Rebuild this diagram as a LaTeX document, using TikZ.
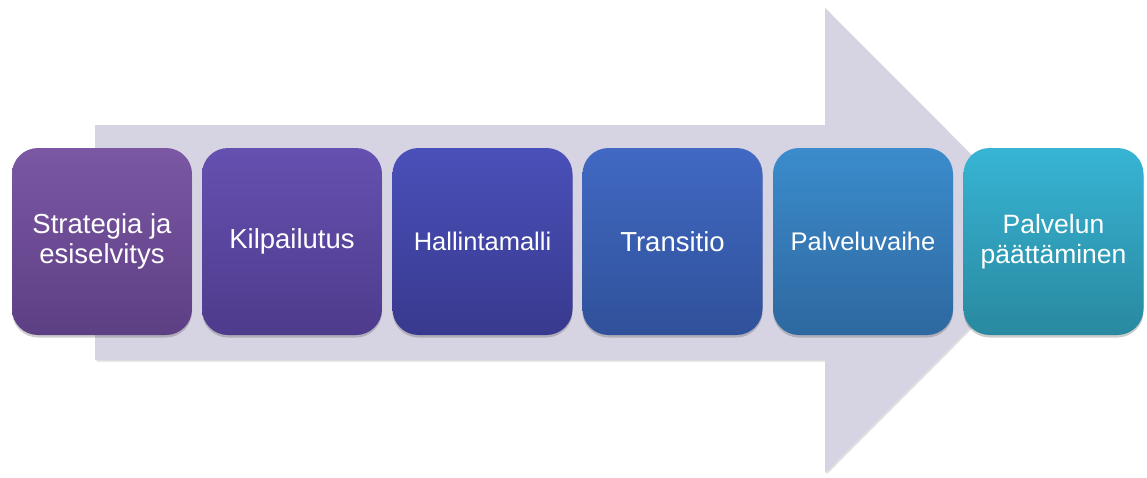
\documentclass[tikz,border=0pt]{standalone}
\usepackage{fontspec}
\setmainfont{Liberation Sans}
\usetikzlibrary{shadows}
\definecolor{arrowc}{HTML}{D6D3E2}
\definecolor{aT}{HTML}{7B57A4}\definecolor{aB}{HTML}{5D3F84}
\definecolor{bT}{HTML}{6650B0}\definecolor{bB}{HTML}{4E3B8C}
\definecolor{cT}{HTML}{4A50B9}\definecolor{cB}{HTML}{38398E}
\definecolor{dT}{HTML}{4169C3}\definecolor{dB}{HTML}{30519A}
\definecolor{eT}{HTML}{3B8CCC}\definecolor{eB}{HTML}{2E68A0}
\definecolor{fT}{HTML}{37B4D4}\definecolor{fB}{HTML}{2989A0}
\tikzset{
  stepbox/.style={minimum width=180pt, minimum height=187pt, rounded corners=26pt,
    inner sep=0pt, text=white, align=center,
    drop shadow={shadow xshift=0pt, shadow yshift=-2.5pt, opacity=0.28, fill=black!70}},
  big/.style={font=\fontsize{27.5}{30}\selectfont},
  mid/.style={font=\fontsize{25.5}{28}\selectfont},
}
\begin{document}
\begin{tikzpicture}[x=1pt,y=-1pt]
\useasboundingbox (0,0) rectangle (1147,477);
\fill[arrowc, drop shadow={shadow xshift=1.5pt, shadow yshift=-1.5pt, opacity=0.25}]
  (95,125) -- (825,125) -- (825,8) -- (1057,240.5) -- (825,473) -- (825,360) -- (95,360) -- cycle;
\node[stepbox, big, top color=aT, bottom color=aB] (s1) at (102,241.5) {Strategia ja\\esiselvitys};
\node[stepbox, big, top color=bT, bottom color=bB] (s2) at (292,241.5) {Kilpailutus};
\node[stepbox, mid, top color=cT, bottom color=cB] (s3) at (482.5,241.5) {Hallintamalli};
\node[stepbox, big, top color=dT, bottom color=dB] (s4) at (672.5,241.5) {Transitio};
\node[stepbox, mid, top color=eT, bottom color=eB] (s5) at (863,241.5) {Palveluvaihe};
\node[stepbox, font=\fontsize{26.5}{29.5}\selectfont, top color=fT, bottom color=fB] (s6) at (1053.5,241.5) {Palvelun\\päättäminen};
\end{tikzpicture}
\end{document}
